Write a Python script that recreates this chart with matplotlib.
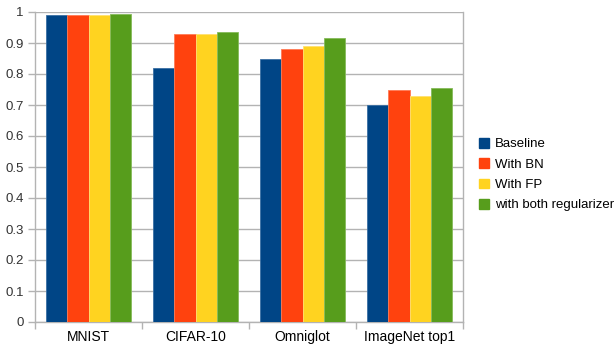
import numpy as np
import matplotlib.pyplot as plt
from matplotlib.patches import Patch

# --- Podatki -----------------------------------------------------------------
KATEGORIJE = ["MNIST", "CIFAR-10", "Omniglot", "ImageNet top1"]
SERIJE = ["Baseline", "With BN", "With FP", "with both regularizer"]
BASELINE = [0.99, 0.82, 0.85, 0.70]
WITH_BN = [0.99, 0.93, 0.88, 0.75]
WITH_FP = [0.99, 0.93, 0.89, 0.73]
WITH_BOTH = [0.993, 0.935, 0.915, 0.756]
Y_TICKS = [0, 0.1, 0.2, 0.3, 0.4, 0.5, 0.6, 0.7, 0.8, 0.9, 1]

BARVE = ["#004586", "#ff420e", "#ffd320", "#579d1c"]
ROBOVI = ["#3a6fa3", "#ff7a55", "#ffe070", "#86bb5a"]

plt.rcParams["font.family"] = ["Liberation Sans", "DejaVu Sans"]

fig = plt.figure(figsize=(6.14, 3.45), dpi=100)
ax = fig.add_axes([35 / 614, 1 - 322 / 345, 428 / 614, 310 / 345])

x = np.arange(len(KATEGORIJE))
sirina = 0.2
vrednosti = [BASELINE, WITH_BN, WITH_FP, WITH_BOTH]
for i, (ime, vals) in enumerate(zip(SERIJE, vrednosti)):
    ax.bar(x + (i - 1.5) * sirina, vals, sirina, color=BARVE[i],
           edgecolor=ROBOVI[i], linewidth=0.6, label=ime, zorder=3)

ax.set_xlim(-0.5, len(KATEGORIJE) - 0.5)
ax.set_ylim(0, 1)
ax.set_yticks(Y_TICKS)
ax.set_yticklabels([f"{t:g}" for t in Y_TICKS])
ax.yaxis.grid(True, color="#b3b3b3", linewidth=1, zorder=0)

# kljukice na x osi so na mejah kategorij, oznake pa na sredini
ax.set_xticks(np.arange(len(KATEGORIJE) + 1) - 0.5)
ax.set_xticklabels([])
ax.set_xticks(x, minor=True)
ax.set_xticklabels(KATEGORIJE, minor=True)
ax.tick_params(axis="x", which="major", length=5, color="#b3b3b3", width=1)
ax.tick_params(axis="x", which="minor", length=0, pad=6)
ax.tick_params(axis="y", length=5, color="#b3b3b3", width=1, pad=3)
ax.tick_params(labelsize=9.5, labelcolor="#333333")

for s in ["left", "bottom", "right"]:
    ax.spines[s].set_color("#b3b3b3")
    ax.spines[s].set_linewidth(1)
ax.spines["top"].set_visible(False)

rocaji = [Patch(facecolor=b, edgecolor=b) for b in BARVE]
fig.legend(rocaji, SERIJE, loc="upper left", bbox_to_anchor=(479 / 614, 1 - 138 / 345),
           frameon=False, fontsize=9.5, handlelength=0.75, handleheight=0.75,
           handletextpad=0.45, labelspacing=0.6, borderaxespad=0, borderpad=0)

fig.savefig("out.png", dpi=100)
